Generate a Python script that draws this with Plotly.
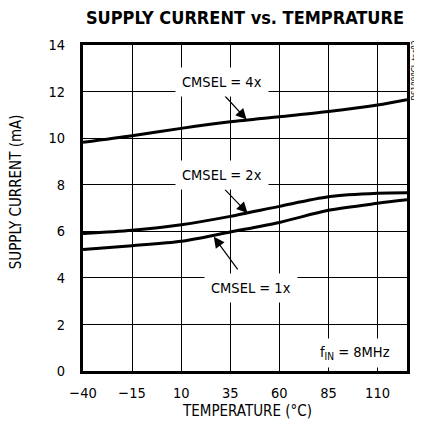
import plotly.graph_objects as go

# ---- data ----
temps = [-40, -15, 10, 35, 60, 85, 110, 125]
cmsel_4x = [9.82, 10.10, 10.42, 10.70, 10.92, 11.14, 11.42, 11.65]
cmsel_2x = [5.90, 6.04, 6.28, 6.64, 7.07, 7.48, 7.63, 7.65]
cmsel_1x = [5.22, 5.38, 5.57, 5.97, 6.38, 6.90, 7.20, 7.35]

x_ticks = [-40, -15, 10, 35, 60, 85, 110]
y_ticks = [0, 2, 4, 6, 8, 10, 12, 14]

FONT = "Liberation Sans Narrow, Arial Narrow, DejaVu Sans Condensed, sans-serif"

fig = go.Figure()
for name, vals in [("CMSEL = 4x", cmsel_4x), ("CMSEL = 2x", cmsel_2x), ("CMSEL = 1x", cmsel_1x)]:
    fig.add_trace(go.Scatter(x=temps, y=vals, mode="lines", name=name,
                             line=dict(color="black", width=3, shape="spline", smoothing=0.8),
                             showlegend=False))

annotations = []
# arrows (tip at curve, tail offset in px)
for tx, ty, ax, ay in [(43.3, 10.80, -23, -25), (43.8, 6.78, -24, -25), (26.6, 5.76, 25, 34)]:
    annotations.append(dict(x=tx, y=ty, xref="x", yref="y", text="", showarrow=True,
                            arrowhead=2, arrowsize=1.8, arrowwidth=1.2, arrowcolor="black",
                            ax=ax, ay=ay))
# labels with white boxes
for lx, ly, txt in [(30.6, 12.41, "CMSEL = 4x"), (30.6, 8.42, "CMSEL = 2x"), (45.3, 3.56, "CMSEL = 1x")]:
    annotations.append(dict(x=lx, y=ly, xref="x", yref="y", text=txt, showarrow=False,
                            bgcolor="white", borderpad=6,
                            font=dict(family=FONT, size=14.5, color="black")))
annotations.append(dict(x=0.966, y=0.055, xref="paper", yref="paper",
                        text="f<sub>IN</sub> = 8MHz", showarrow=False,
                        xanchor="right", yanchor="middle", bgcolor="white", borderpad=5,
                        font=dict(family=FONT, size=14.5, color="black")))
# axis titles
annotations.append(dict(x=-0.208, y=0.55, xref="paper", yref="paper",
                        text="SUPPLY CURRENT (mA)", textangle=-90, showarrow=False,
                        xanchor="center", yanchor="middle",
                        font=dict(family=FONT, size=15, color="black")))
annotations.append(dict(x=0.505, y=-0.123, xref="paper", yref="paper",
                        text="TEMPERATURE (°C)", showarrow=False,
                        xanchor="center", yanchor="middle",
                        font=dict(family=FONT, size=15, color="black")))
annotations.append(dict(x=1.0, y=0.92, xref="paper", yref="paper",
                        text="DS1080CL toc02", textangle=-90, showarrow=False,
                        xanchor="left", yanchor="middle", xshift=2,
                        font=dict(family=FONT, size=8, color="black")))

# page body has an 8px margin, so the figure is sized/offset to land at the right pixels
fig.update_layout(
    width=414, height=427,
    margin=dict(l=75, r=12, t=37, b=64),
    paper_bgcolor="white", plot_bgcolor="white",
    title=dict(text="<b>SUPPLY CURRENT vs. TEMPRATURE</b>", x=0.5, xref="paper",
               xanchor="center", y=0.978, yanchor="middle",
               font=dict(family=FONT, size=18, color="black")),
    annotations=annotations,
    xaxis=dict(range=[-40, 125], tickvals=x_ticks, showgrid=True, gridcolor="black",
               gridwidth=1, zeroline=False, showline=True, linecolor="black", linewidth=3,
               mirror=True, ticks="outside", ticklen=7, tickcolor="white",
               tickfont=dict(family=FONT, size=14.5, color="black")),
    yaxis=dict(range=[0, 14], tickvals=y_ticks, showgrid=True, gridcolor="black",
               gridwidth=1, zeroline=False, showline=True, linecolor="black", linewidth=3,
               mirror=True, ticks="outside", ticklen=12, tickcolor="white",
               tickfont=dict(family=FONT, size=14.5, color="black")),
)

fig.write_html("out.html")
